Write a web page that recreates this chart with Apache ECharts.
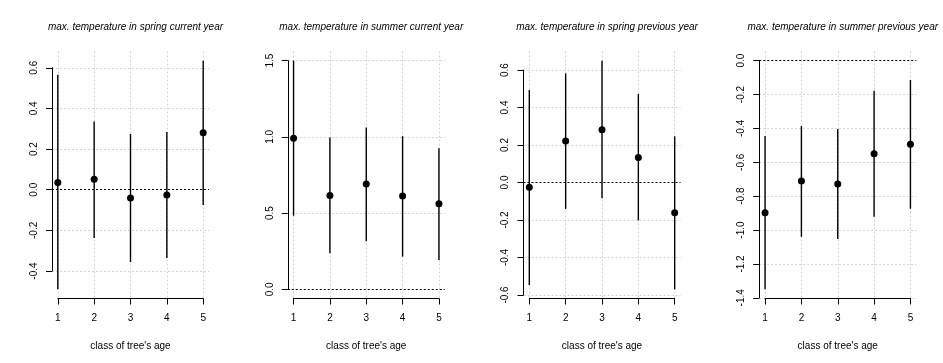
<!DOCTYPE html>
<html lang="en">
<head>
<meta charset="UTF-8">
<title>max. temperature by class of tree's age</title>
<script type="text/javascript" src="https://cdn.jsdelivr.net/npm/echarts@6/dist/echarts.min.js"></script>
<style>
  html, body { margin: 0; padding: 0; background: #fff; }
</style>
</head>
<body>
<div id="main" style="width: 943px;height:363px;"></div>
<script type="text/javascript">
  // classes of tree's age (x axis)
  var ages = [1, 2, 3, 4, 5];

  var titles = [
    'max. temperature in spring current year',
    'max. temperature in summer current year',
    'max. temperature in spring previous year',
    'max. temperature in summer previous year'
  ];

  // estimate, lower and upper bound for each class
  var estSpringCur = [0.036, 0.051, -0.041, -0.026, 0.280];
  var lowSpringCur = [-0.490, -0.238, -0.356, -0.336, -0.075];
  var upSpringCur  = [0.566, 0.336, 0.274, 0.284, 0.635];

  var estSummerCur = [0.991, 0.616, 0.691, 0.612, 0.562];
  var lowSummerCur = [0.483, 0.237, 0.316, 0.215, 0.193];
  var upSummerCur  = [1.500, 0.996, 1.062, 1.005, 0.926];

  var estSpringPrev = [-0.026, 0.221, 0.282, 0.134, -0.161];
  var lowSpringPrev = [-0.547, -0.141, -0.084, -0.202, -0.570];
  var upSpringPrev  = [0.493, 0.582, 0.650, 0.472, 0.246];

  var estSummerPrev = [-0.898, -0.711, -0.728, -0.549, -0.494];
  var lowSummerPrev = [-1.350, -1.040, -1.053, -0.921, -0.874];
  var upSummerPrev  = [-0.445, -0.386, -0.403, -0.177, -0.114];

  // y tick labels of each panel
  var yTicksSpringCur  = [-0.4, -0.2, 0.0, 0.2, 0.4, 0.6];
  var yTicksSummerCur  = [0.0, 0.5, 1.0, 1.5];
  var yTicksSpringPrev = [-0.6, -0.4, -0.2, 0.0, 0.2, 0.4, 0.6];
  var yTicksSummerPrev = [-1.4, -1.2, -1.0, -0.8, -0.6, -0.4, -0.2, 0.0];

  var panels = [
    { est: estSpringCur, low: lowSpringCur, up: upSpringCur, ticks: yTicksSpringCur },
    { est: estSummerCur, low: lowSummerCur, up: upSummerCur, ticks: yTicksSummerCur },
    { est: estSpringPrev, low: lowSpringPrev, up: upSpringPrev, ticks: yTicksSpringPrev },
    { est: estSummerPrev, low: lowSummerPrev, up: upSummerPrev, ticks: yTicksSummerPrev }
  ];

  var FONT = '"Liberation Sans", Arial, Helvetica, sans-serif';
  var panelW = 943 / 4;
  var plotOff = 52, plotW = 157, plotTop = 51.5, plotH = 247;
  var gridColor = '#d3d3d3';

  var myChart = echarts.init(document.getElementById('main'));
  var grid = [], xAxis = [], yAxis = [], series = [], title = [];

  panels.forEach(function (p, i) {
    // R style limits: data range (with 0) plus 4% on both sides
    var lo = Math.min(0, Math.min.apply(null, p.low));
    var hi = Math.max(0, Math.max.apply(null, p.up));
    var pad = (hi - lo) * 0.04;
    lo -= pad; hi += pad;
    var xlo = ages[0] - (ages[ages.length - 1] - ages[0]) * 0.04;
    var xhi = ages[ages.length - 1] + (ages[ages.length - 1] - ages[0]) * 0.04;

    var L = i * panelW + plotOff;
    var pxu = plotW / (xhi - xlo);
    var pyu = plotH / (hi - lo);
    var tmin = p.ticks[0], tmax = p.ticks[p.ticks.length - 1];
    var step = Math.round((p.ticks[1] - p.ticks[0]) * 10) / 10;
    var d = i * 3, gx = i * 3 + 1, gy = i * 3 + 2;

    // plot region (data)
    grid.push({ left: L, top: plotTop, width: plotW, height: plotH });
    xAxis.push({ type: 'value', gridIndex: d, min: xlo, max: xhi, show: false });
    yAxis.push({ type: 'value', gridIndex: d, min: lo, max: hi, show: false });

    // x axis from first to last tick, vertical grid lines
    grid.push({ left: L + (ages[0] - xlo) * pxu, top: plotTop,
      width: (ages[ages.length - 1] - ages[0]) * pxu, height: plotH });
    xAxis.push({
      type: 'value', gridIndex: gx, min: ages[0], max: ages[ages.length - 1], interval: 1,
      name: "class of tree's age", nameLocation: 'middle', nameGap: 43,
      nameTextStyle: { fontFamily: FONT, fontSize: 10, color: '#000' },
      axisLine: { show: true, onZero: false, lineStyle: { color: '#000', width: 1 } },
      axisTick: { show: true, length: 6, lineStyle: { color: '#000' } },
      axisLabel: { margin: 15, fontFamily: FONT, fontSize: 10, color: '#000' },
      splitLine: { show: true, lineStyle: { color: gridColor, type: [2, 2], width: 1 } }
    });
    yAxis.push({ type: 'value', gridIndex: gx, min: 0, max: 1, show: false });

    // y axis from first to last tick, horizontal grid lines
    grid.push({ left: L, width: plotW, top: plotTop + (hi - tmax) * pyu,
      height: (tmax - tmin) * pyu });
    xAxis.push({ type: 'value', gridIndex: gy, min: 0, max: 1, show: false });
    yAxis.push({
      type: 'value', gridIndex: gy, min: tmin, max: tmax, interval: step,
      axisLine: { show: true, onZero: false, lineStyle: { color: '#000', width: 1 } },
      axisTick: { show: true, length: 6, lineStyle: { color: '#000' } },
      axisLabel: { rotate: 90, margin: 13, fontFamily: FONT, fontSize: 10, color: '#000',
        formatter: function (v) { return v.toFixed(1); } },
      splitLine: { show: true, lineStyle: { color: gridColor, type: [2, 2], width: 1 } }
    });

    title.push({
      text: titles[i], left: L + plotW / 2, top: 17, textAlign: 'center',
      textStyle: { fontFamily: FONT, fontSize: 10, fontStyle: 'italic', fontWeight: 'normal', color: '#000' }
    });

    // confidence intervals
    series.push({
      type: 'custom', xAxisIndex: d, yAxisIndex: d, z: 3,
      data: ages.map(function (a, k) { return [a, p.low[k], p.up[k]]; }),
      encode: { x: 0, y: [1, 2] },
      renderItem: function (params, api) {
        var a = api.coord([api.value(0), api.value(1)]);
        var b = api.coord([api.value(0), api.value(2)]);
        return { type: 'line', shape: { x1: a[0], y1: a[1], x2: b[0], y2: b[1] },
          style: { stroke: '#000', lineWidth: 1.4 } };
      }
    });

    // estimates + dotted zero line
    series.push({
      type: 'scatter', xAxisIndex: d, yAxisIndex: d, z: 4,
      symbol: 'circle', symbolSize: 7,
      itemStyle: { color: '#000', opacity: 1 },
      data: ages.map(function (a, k) { return [a, p.est[k]]; }),
      markLine: {
        silent: true, symbol: 'none', animation: false,
        label: { show: false },
        lineStyle: { color: '#000', type: [2, 2], width: 1, opacity: 1 },
        data: [{ yAxis: 0 }]
      }
    });
  });

  myChart.setOption({
    animation: false,
    title: title,
    grid: grid,
    xAxis: xAxis,
    yAxis: yAxis,
    series: series
  });
</script>
</body>
</html>
